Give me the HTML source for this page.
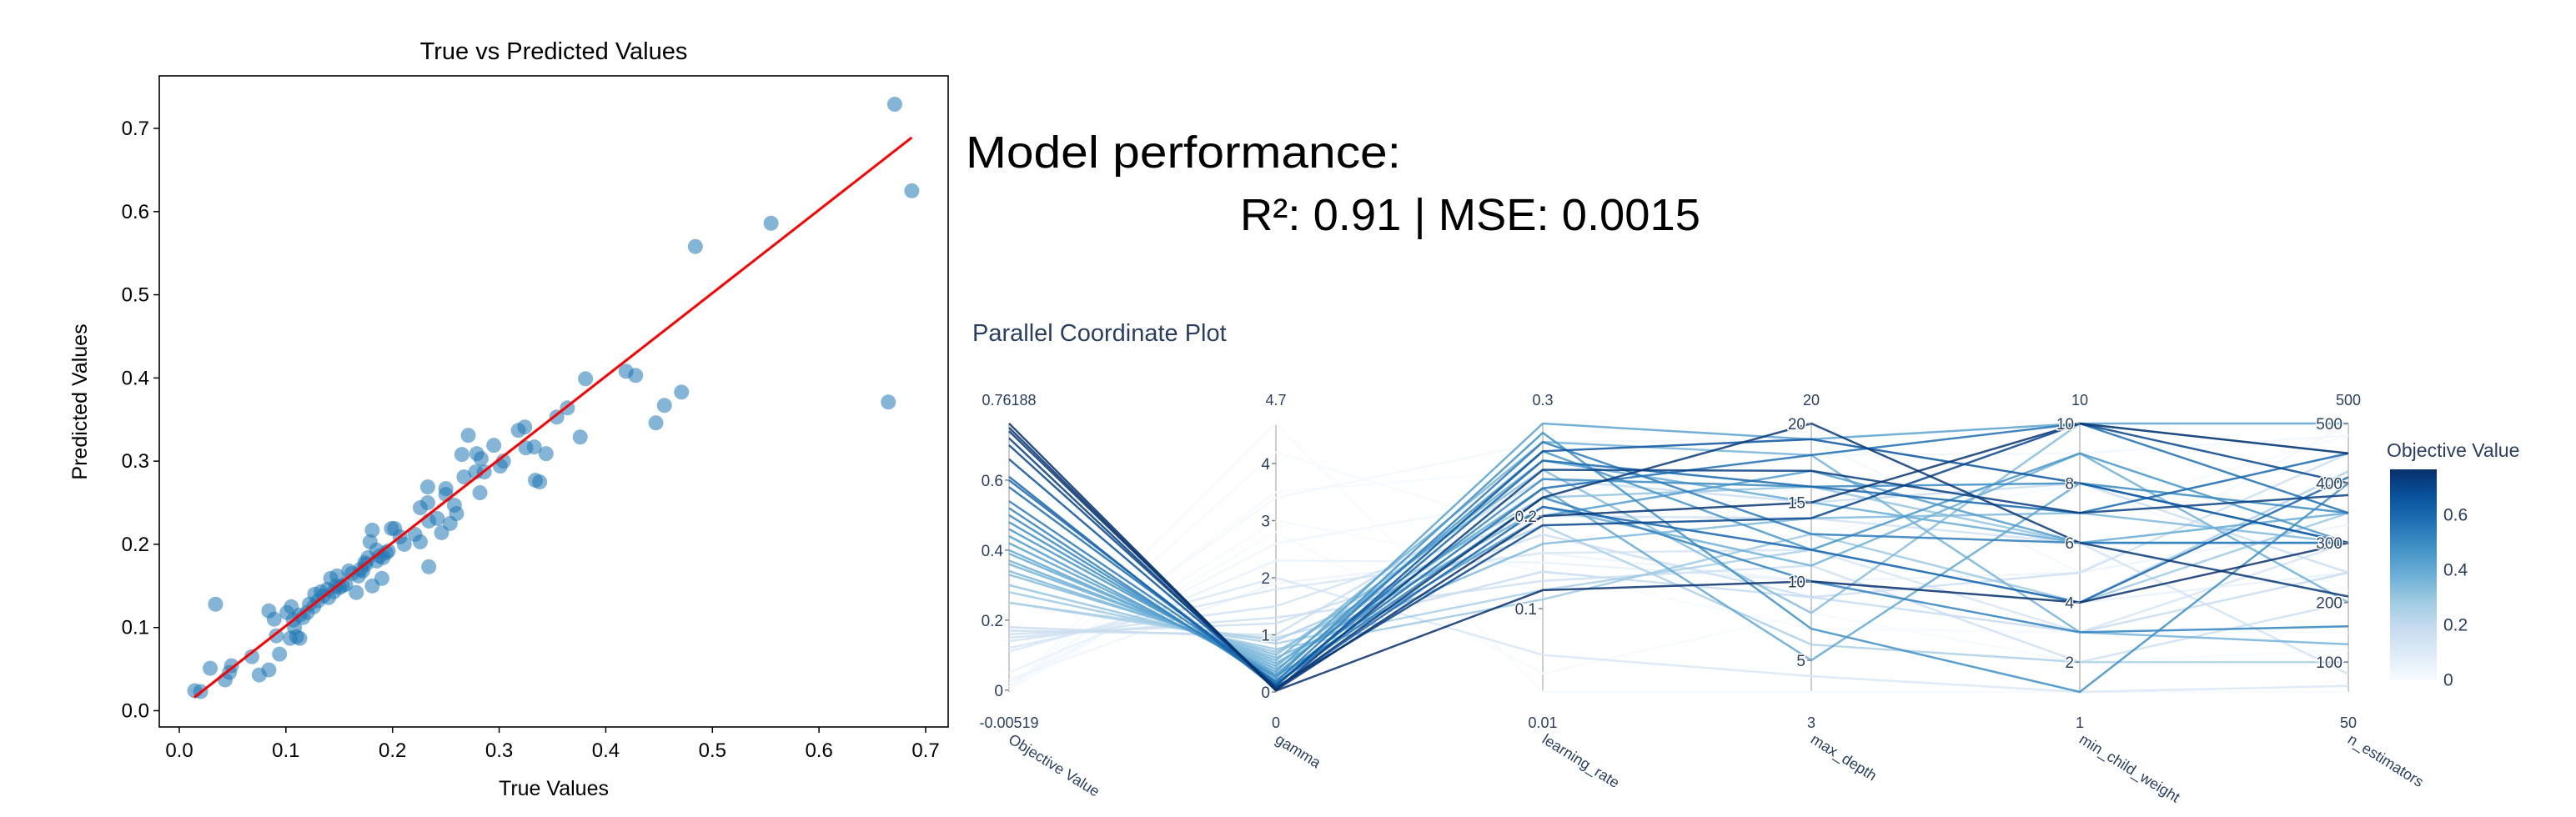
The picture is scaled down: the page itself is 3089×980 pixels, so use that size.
<!DOCTYPE html>
<html><head><meta charset="utf-8"><style>
html,body{margin:0;padding:0;background:#fff;}
svg{display:block;}
text{font-family:"Liberation Sans",sans-serif;}
</style></head><body>
<svg id="root" width="3089" height="980" viewBox="0 0 3089 980" xmlns="http://www.w3.org/2000/svg">
<rect width="3089" height="980" fill="#fff"/>
<g id="scatter"></g>
<g>
<text x="1158" y="201" font-size="54" fill="#000" textLength="522" lengthAdjust="spacingAndGlyphs">Model performance:</text>
<text x="1487" y="276" font-size="54" fill="#000" textLength="552" lengthAdjust="spacingAndGlyphs">R²: 0.91 | MSE: 0.0015</text>
</g>
<g id="pc"></g>
</svg>
<script>
// ---------- Scatter data ----------
const trueVals = [0.0145,0.020,0.029,0.034,0.043,0.047,0.049,0.068,0.075,0.084,0.084,0.089,0.094,0.091,0.101,0.105,0.104,0.110,0.113,0.107,0.113,0.126,0.127,0.133,0.139,0.142,0.148,0.145,0.153,0.159,0.166,0.168,0.174,0.177,0.179,0.181,0.181,0.185,0.190,0.191,0.194,0.199,0.202,0.207,0.211,0.221,0.226,0.226,0.233,0.233,0.234,0.234,0.242,0.246,0.250,0.250,0.254,0.258,0.260,0.265,0.267,0.271,0.278,0.279,0.282,0.283,0.286,0.295,0.301,0.304,0.318,0.324,0.325,0.333,0.334,0.338,0.344,0.354,0.364,0.376,0.381,0.419,0.428,0.447,0.455,0.471,0.484,0.555,0.665,0.671,0.687,0.120,0.122,0.130,0.135,0.150,0.156,0.162,0.170,0.172,0.185,0.196,0.108,0.116,0.140,0.147,0.175,0.188];
const predVals = [0.024,0.023,0.051,0.128,0.037,0.046,0.054,0.065,0.043,0.049,0.120,0.110,0.068,0.090,0.118,0.125,0.087,0.089,0.087,0.109,0.115,0.125,0.140,0.143,0.146,0.159,0.162,0.143,0.150,0.168,0.142,0.162,0.178,0.184,0.203,0.217,0.150,0.193,0.159,0.184,0.190,0.219,0.219,0.209,0.200,0.212,0.203,0.244,0.269,0.250,0.173,0.228,0.231,0.214,0.267,0.260,0.225,0.247,0.237,0.308,0.281,0.331,0.287,0.309,0.262,0.303,0.287,0.319,0.294,0.300,0.337,0.341,0.316,0.317,0.277,0.275,0.309,0.353,0.364,0.329,0.399,0.408,0.403,0.346,0.367,0.383,0.558,0.586,0.371,0.729,0.625,0.118,0.128,0.132,0.138,0.148,0.152,0.165,0.170,0.168,0.180,0.192,0.100,0.112,0.136,0.150,0.176,0.186];
const fitX = [0.014,0.687];
const fitY = [0.016,0.689];
const xTicks = [0.0,0.1,0.2,0.3,0.4,0.5,0.6,0.7];
const yTicks = [0.0,0.1,0.2,0.3,0.4,0.5,0.6,0.7];

// ---------- Parallel coordinate data ----------
const dimNames = ["Objective Value","gamma","learning_rate","max_depth","min_child_weight","n_estimators"];
const dimMin = [-0.00519,0,0.01,3,1,50];
const dimMax = [0.76188,4.7,0.3,20,10,500];
const dimMinLabel = ["-0.00519","0","0.01","3","1","50"];
const dimMaxLabel = ["0.76188","4.7","0.3","20","10","500"];
const dimTicks = [[0,0.2,0.4,0.6],[0,1,2,3,4],[0.1,0.2],[5,10,15,20],[2,4,6,8,10],[100,200,300,400,500]];
const objective = [0.762,0.75,0.74,0.72,0.70,0.66,0.61,0.60,0.58,0.54,0.52,0.50,0.48,0.46,0.44,0.42,0.40,0.39,0.37,0.36,0.34,0.33,0.30,0.28,0.25,0.25,0.17,0.16,0.15,0.14,0.12,0.11,0.05,0.02,0.0,0.0,0.0,0.0,0.01,0.0,0.03,0.18];
const gamma = [0.02,0.03,0.05,0.04,0.08,0.10,0.06,0.12,0.15,0.18,0.14,0.2,0.25,0.3,0.28,0.35,0.4,0.45,0.5,0.55,0.6,0.65,0.7,0.75,0.85,0.9,1.0,1.2,1.3,1.5,1.8,2.0,2.3,2.6,3.0,3.5,4.7,4.2,3.4,2.8,1.9,0.95];
const learningRate = [0.12,0.20,0.22,0.25,0.19,0.27,0.21,0.26,0.23,0.28,0.22,0.24,0.29,0.27,0.20,0.30,0.23,0.26,0.21,0.28,0.17,0.25,0.22,0.11,0.12,0.19,0.24,0.18,0.13,0.20,0.16,0.05,0.15,0.22,0.14,0.25,0.01,0.18,0.28,0.03,0.16,0.14];
const maxDepth = [10,15,20,17,14,19,12,16,18,13,10,16,7,12,17,19,5,15,11,18,14,8,16,13,12,6,15,9,11,14,12,4,10,18,7,13,3,16,19,8,10,9];
const minChildWeight = [4,10,6,7,10,8,4,7,10,6,3,8,1,9,6,10,8,6,9,3,7,10,6,4,4,2,8,5,2,6,3,1,4,9,3,8,1,7,5,2,5,3];
const nEstimators = [300,450,210,380,400,300,410,450,350,300,160,350,400,300,300,500,300,350,200,130,300,450,300,350,420,100,250,450,200,80,300,60,250,480,150,220,50,480,500,120,330,250];

const NS="http://www.w3.org/2000/svg";
function mk(parent,tag,attrs,txt){const e=document.createElementNS(NS,tag);for(const k in attrs)e.setAttribute(k,attrs[k]);if(txt!==undefined)e.textContent=txt;parent.appendChild(e);return e;}

// ----- Scatter -----
(function(){
const g=document.getElementById('scatter');
const L=191,R=1137,T=91,B=872;
const sx=v=>215+(v-0)*(1110-215)/0.7;
const sy=v=>852.5-(v-0)*(852.5-154)/0.7;
const title=mk(g,'text',{x:664,y:71,'font-size':29,'text-anchor':'middle',fill:'#000'},'True vs Predicted Values');


xTicks.forEach(t=>{
  const tk=mk(g,'line',{x1:sx(t),x2:sx(t),y1:B,y2:B+7,stroke:'#000','stroke-width':1.5});
  
  
  const tl=mk(g,'text',{x:sx(t),y:B+36,'font-size':24,'text-anchor':'middle',fill:'#000'},t.toFixed(1));
  
  
});
yTicks.forEach(t=>{
  const tk=mk(g,'line',{x1:L-7,x2:L,y1:sy(t),y2:sy(t),stroke:'#000','stroke-width':1.5});
  
  
  const tl=mk(g,'text',{x:L-12,y:sy(t)+8,'font-size':24,'text-anchor':'end',fill:'#000'},t.toFixed(1));
  
  
});
const xl=mk(g,'text',{x:664,y:954,'font-size':25,'text-anchor':'middle',fill:'#000'},'True Values');


const yl=mk(g,'text',{x:0,y:0,'font-size':25,'text-anchor':'middle',fill:'#000',transform:'translate(104,482) rotate(-90)'},'Predicted Values');


trueVals.forEach((v,i)=>{
  const c=mk(g,'circle',{cx:sx(v),cy:sy(predVals[i]),r:9,fill:'#1f77b4','fill-opacity':0.55});
  
  
});
const fl=mk(g,'line',{x1:sx(fitX[0]),y1:sy(fitY[0]),x2:sx(fitX[1]),y2:sy(fitY[1]),stroke:'#ff0000','stroke-width':3});


const box=mk(g,'rect',{x:L,y:T,width:R-L,height:B-T,fill:'none',stroke:'#000','stroke-width':1.6});


})();

// ----- Parallel coordinates -----
(function(){
const g=document.getElementById('pc');
const axX=[1210,1530,1850,2172,2494,2816];
const T=508,B=830;
const stops=[[247,251,255],[222,235,247],[198,219,239],[158,202,225],[107,174,214],[66,146,198],[33,113,181],[8,81,156],[8,48,107]];
function col(t){t=Math.max(0,Math.min(1,t));const p=t*8;const i=Math.min(7,Math.floor(p));const f=p-i;const a=stops[i],b=stops[i+1];return 'rgb('+a.map((v,k)=>Math.round(v+(b[k]-v)*f)).join(',')+')';}
const sy=(d,v)=>B-(v-dimMin[d])/(dimMax[d]-dimMin[d])*(B-T);
const title=mk(g,'text',{x:1166,y:409,'font-size':29,fill:'#2a3f5f'},'Parallel Coordinate Plot');


// axes
axX.forEach((x,d)=>{
  const al=mk(g,'line',{x1:x,x2:x,y1:T,y2:B,stroke:'#bbb','stroke-width':1.5});
  
  
});
// lines
const data=[objective,gamma,learningRate,maxDepth,minChildWeight,nEstimators];
const idx=objective.map((v,i)=>i).sort((a,b)=>objective[a]-objective[b]);
idx.forEach(i=>{
  const pts=axX.map((x,d)=>x+','+sy(d,data[d][i]).toFixed(1)).join(' ');
  const t=(objective[i]-dimMin[0])/(dimMax[0]-dimMin[0]);
  const pl=mk(g,'polyline',{points:pts,fill:'none',stroke:col(t),'stroke-width':2.5,'stroke-opacity':0.85});
  
  
});
// ticks and labels
axX.forEach((x,d)=>{
  dimTicks[d].forEach(t=>{
    const y=sy(d,t);
    const tk=mk(g,'line',{x1:x-5,x2:x,y1:y,y2:y,stroke:'#888','stroke-width':1.5});
    
    
    const tl=mk(g,'text',{x:x-7,y:y+7,'font-size':19,'text-anchor':'end',fill:'#2a3f5f',stroke:'#fff','stroke-width':3,'paint-order':'stroke'},String(t));
    
    
  });
  const mx=mk(g,'text',{x:x,y:486,'font-size':18,'text-anchor':'middle',fill:'#2a3f5f'},dimMaxLabel[d]);
  
  
  const mn=mk(g,'text',{x:x,y:873,'font-size':18,'text-anchor':'middle',fill:'#2a3f5f'},dimMinLabel[d]);
  
  
  const nm=mk(g,'text',{x:0,y:0,'font-size':18,fill:'#2a3f5f',transform:'translate('+(x-2)+',890) rotate(32)'},dimNames[d]);
  
  
});
// colorbar
const defs=mk(g,'defs',{});
const lg=mk(defs,'linearGradient',{id:'cbg',x1:0,y1:1,x2:0,y2:0});
stops.forEach((s,i)=>mk(lg,'stop',{offset:(i/8),'stop-color':'rgb('+s.join(',')+')'}));
const cb=mk(g,'rect',{x:2866,y:563,width:56,height:253,fill:'url(#cbg)'});


const cbt=mk(g,'text',{x:2862,y:548,'font-size':23,fill:'#2a3f5f'},'Objective Value');


[0,0.2,0.4,0.6].forEach(t=>{
  const y=816-(t-dimMin[0])/(dimMax[0]-dimMin[0])*253+ -0.00519/(0.76707)*253*0;
  const tl=mk(g,'text',{x:2930,y:y+8,'font-size':21,fill:'#2a3f5f'},String(t));
  
  
});
})();
</script>
</body></html>
